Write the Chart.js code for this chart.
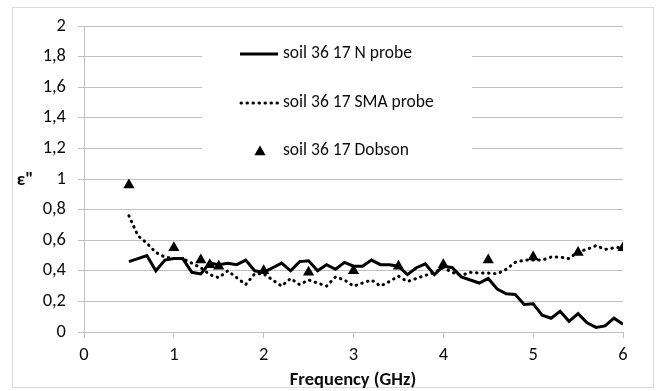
<!DOCTYPE html>
<html>
<head>
<meta charset="utf-8">
<script src="https://cdn.jsdelivr.net/npm/chart.js@4.4.1/dist/chart.umd.min.js"></script>
<style>
  body { margin: 0; background: #fff; }
  #wrap { width: 657px; height: 391px; }
</style>
</head>
<body>
<div id="wrap"><canvas id="chart" width="657" height="391"></canvas></div>
<script>
// frequency points (GHz) for the two probe curves
const freq = [0.5, 0.6, 0.7, 0.8, 0.9, 1.0, 1.1, 1.2, 1.3, 1.4, 1.5, 1.6, 1.7, 1.8, 1.9,
  2.0, 2.1, 2.2, 2.3, 2.4, 2.5, 2.6, 2.7, 2.8, 2.9, 3.0, 3.1, 3.2, 3.3, 3.4, 3.5, 3.6,
  3.7, 3.8, 3.9, 4.0, 4.1, 4.2, 4.3, 4.4, 4.5, 4.6, 4.7, 4.8, 4.9, 5.0, 5.1, 5.2, 5.3,
  5.4, 5.5, 5.6, 5.7, 5.8, 5.9, 6.0];

const nProbe = [0.46, 0.48, 0.50, 0.40, 0.47, 0.48, 0.48, 0.39, 0.38, 0.45, 0.44, 0.45,
  0.44, 0.47, 0.40, 0.39, 0.42, 0.45, 0.40, 0.46, 0.465, 0.40, 0.44, 0.41, 0.455, 0.43,
  0.43, 0.47, 0.44, 0.44, 0.43, 0.375, 0.42, 0.445, 0.375, 0.43, 0.42, 0.36, 0.34, 0.32,
  0.35, 0.28, 0.25, 0.245, 0.18, 0.185, 0.11, 0.09, 0.135, 0.07, 0.12, 0.06, 0.03, 0.04,
  0.09, 0.05];

const smaProbe = [0.76, 0.63, 0.58, 0.52, 0.49, 0.48, 0.48, 0.45, 0.42, 0.375, 0.355, 0.40,
  0.355, 0.31, 0.38, 0.38, 0.34, 0.30, 0.35, 0.31, 0.34, 0.32, 0.30, 0.36, 0.34, 0.30,
  0.32, 0.34, 0.30, 0.33, 0.365, 0.33, 0.35, 0.37, 0.39, 0.42, 0.39, 0.37, 0.39, 0.385,
  0.385, 0.38, 0.41, 0.455, 0.47, 0.47, 0.47, 0.49, 0.49, 0.48, 0.525, 0.54, 0.565, 0.54,
  0.55, 0.555];

const dobsonFreq = [0.5, 1.0, 1.3, 1.4, 1.5, 2.0, 2.5, 3.0, 3.5, 4.0, 4.5, 5.0, 5.5, 6.0];
const dobson = [0.96, 0.55, 0.47, 0.44, 0.43, 0.40, 0.39, 0.40, 0.43, 0.44, 0.47, 0.49, 0.52, 0.55];

const seriesNames = ['soil 36 17 N probe', 'soil 36 17 SMA probe', 'soil 36 17 Dobson'];
const xTitle = 'Frequency (GHz)';
const yTitle = 'ε"';

const FONT = 'Carlito, Lato, "Liberation Sans", sans-serif';
const GRID = '#c0c0c0';
const TEXT = '#0d0d0d';

function pairs(xs, ys) {
    return xs.map((x, i) => ({ x: x, y: ys[i] }));
}

function fmtComma(v) {
    return (Math.round(v * 10) / 10).toString().replace('.', ',');
}

// outer border, axis titles and the in-plot legend box
const decorPlugin = {
    id: 'decor',
    beforeDraw(chart) {
        const ctx = chart.ctx;
        ctx.save();
        ctx.fillStyle = '#fff';
        ctx.fillRect(0, 0, chart.width, chart.height);
        ctx.strokeStyle = '#d9d9d9';
        ctx.lineWidth = 1;
        ctx.strokeRect(12.5, 7.5, 641, 380);
        ctx.restore();
    },
    beforeDatasetsDraw(chart) {
        const ctx = chart.ctx;
        ctx.save();
        // legend background hides the gridlines behind it
        ctx.fillStyle = '#fff';
        ctx.fillRect(202, 34, 270, 132);

        const rows = [54, 103, 151];
        ctx.font = '17.5px ' + FONT;
        ctx.fillStyle = TEXT;
        ctx.textBaseline = 'middle';
        ctx.textAlign = 'left';
        rows.forEach((y, i) => {
            ctx.fillText(seriesNames[i], 283, y);
        });

        ctx.strokeStyle = '#000';
        ctx.lineWidth = 3;
        ctx.beginPath();
        ctx.moveTo(240, rows[0]);
        ctx.lineTo(278, rows[0]);
        ctx.stroke();

        ctx.lineCap = 'round';
        ctx.setLineDash([0.5, 5.5]);
        ctx.beginPath();
        ctx.moveTo(241, rows[1]);
        ctx.lineTo(278, rows[1]);
        ctx.stroke();
        ctx.setLineDash([]);

        // triangle marker
        const r = 6.5, tx = 260, ty = rows[2] + 1;
        ctx.fillStyle = '#000';
        ctx.beginPath();
        ctx.moveTo(tx, ty - r);
        ctx.lineTo(tx + r * 0.866, ty + r / 2);
        ctx.lineTo(tx - r * 0.866, ty + r / 2);
        ctx.closePath();
        ctx.fill();

        // axis titles
        ctx.font = 'bold 18.5px ' + FONT;
        ctx.textAlign = 'center';
        ctx.fillStyle = TEXT;
        ctx.fillText(xTitle, 353, 380);
        ctx.fillText(yTitle, 25, 180);
        ctx.restore();
    }
};

new Chart(document.getElementById('chart'), {
    type: 'scatter',
    data: {
        datasets: [
            {
                label: seriesNames[0],
                data: pairs(freq, nProbe),
                showLine: true,
                borderColor: '#000',
                borderWidth: 3,
                pointRadius: 0,
                tension: 0
            },
            {
                label: seriesNames[1],
                data: pairs(freq, smaProbe),
                showLine: true,
                borderColor: '#000',
                borderWidth: 3,
                borderDash: [0.5, 5.5],
                borderCapStyle: 'round',
                pointRadius: 0,
                tension: 0
            },
            {
                label: seriesNames[2],
                data: pairs(dobsonFreq, dobson),
                showLine: false,
                pointStyle: 'triangle',
                pointRadius: 6.5,
                backgroundColor: '#000',
                borderColor: '#000',
                borderWidth: 0
            }
        ]
    },
    options: {
        responsive: false,
        animation: false,
        devicePixelRatio: 1,
        layout: { padding: { left: 0, right: 34, top: 26, bottom: 0 } },
        plugins: {
            legend: { display: false },
            tooltip: { enabled: false }
        },
        scales: {
            x: {
                type: 'linear',
                min: 0,
                max: 6,
                afterFit(scale) { scale.height = 59; },
                ticks: {
                    stepSize: 1,
                    padding: 6,
                    color: TEXT,
                    font: { family: FONT, size: 18.5 }
                },
                grid: {
                    drawOnChartArea: false,
                    drawTicks: true,
                    tickLength: 6,
                    color: GRID
                },
                border: { color: GRID }
            },
            y: {
                min: 0,
                max: 2,
                afterFit(scale) { scale.width = 84; },
                ticks: {
                    stepSize: 0.2,
                    padding: 12,
                    color: TEXT,
                    font: { family: FONT, size: 18.5 },
                    callback: (v) => fmtComma(v)
                },
                grid: {
                    color: GRID,
                    tickLength: 6
                },
                border: { color: GRID }
            }
        }
    },
    plugins: [decorPlugin]
});
</script>
</body>
</html>
